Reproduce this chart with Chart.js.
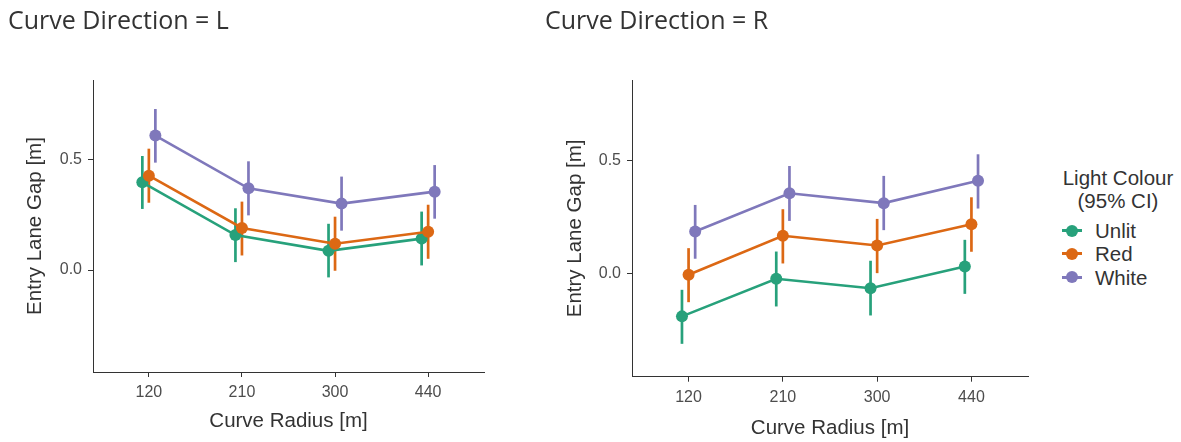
<!DOCTYPE html>
<html>

<head>
    <script src="https://cdn.jsdelivr.net/npm/chart.js@4.4.0/dist/chart.umd.min.js"></script>
    <style>
        body {
            margin: 0;
            background: #ffffff;
        }

        .panel {
            position: absolute;
            top: 0;
            height: 442px;
        }

        #legend {
            position: absolute;
            left: 1052px;
            top: 167px;
            font-family: "Liberation Sans", Arial, sans-serif;
            font-size: 20.5px;
            color: #333333;
        }

        #legend .lt {
            text-align: center;
            line-height: 22.5px;
            width: 132px;
            margin-bottom: 7px;
        }

        #legend .item {
            height: 23.3px;
            line-height: 23.3px;
            position: relative;
            padding-left: 43px;
        }

        #legend .key {
            position: absolute;
            left: 10px;
            top: 10px;
            width: 20px;
            height: 3px;
        }

        #legend .dot {
            position: absolute;
            left: 4px;
            top: -4.5px;
            width: 12px;
            height: 12px;
            border-radius: 50%;
        }
    </style>
</head>

<body>
    <div class="panel" style="left:0px;width:500px"><canvas id="left"></canvas></div>
    <div class="panel" style="left:537px;width:510px"><canvas id="right"></canvas></div>
    <div id="legend"></div>

    <script>
        // categories
        const radii = ['120', '210', '300', '440']
        const groups = ['Unlit', 'Red', 'White']
        const colors = ['#27A17B', '#DC6814', '#7F78BB']

        // Curve Direction = L
        const unlitL = [0.396, 0.158, 0.087, 0.142]
        const unlitLlo = [0.276, 0.036, -0.033, 0.021]
        const unlitLhi = [0.515, 0.279, 0.209, 0.264]
        const redL = [0.426, 0.190, 0.119, 0.173]
        const redLlo = [0.304, 0.066, -0.003, 0.051]
        const redLhi = [0.548, 0.309, 0.241, 0.295]
        const whiteL = [0.607, 0.369, 0.300, 0.354]
        const whiteLlo = [0.485, 0.247, 0.178, 0.232]
        const whiteLhi = [0.727, 0.491, 0.422, 0.474]

        // Curve Direction = R
        const unlitR = [-0.192, -0.025, -0.067, 0.030]
        const unlitRlo = [-0.314, -0.148, -0.188, -0.092]
        const unlitRhi = [-0.074, 0.096, 0.055, 0.148]
        const redR = [-0.007, 0.166, 0.123, 0.217]
        const redRlo = [-0.129, 0.043, 0.000, 0.095]
        const redRhi = [0.111, 0.284, 0.241, 0.337]
        const whiteR = [0.185, 0.355, 0.311, 0.410]
        const whiteRlo = [0.064, 0.232, 0.191, 0.287]
        const whiteRhi = [0.303, 0.476, 0.432, 0.528]

        const yTicks = [0, 0.5]
        const dodge = [-0.07, 0, 0.07]

        // vertical CI lines, drawn under the lines and points
        const errorBars = {
            id: 'errorBars',
            beforeDatasetsDraw(chart) {
                const ctx = chart.ctx
                const xs = chart.scales.x
                const ys = chart.scales.y
                chart.data.datasets.forEach(ds => {
                    ctx.save()
                    ctx.strokeStyle = ds.borderColor
                    ctx.lineWidth = 2.7
                    ds.data.forEach((p, i) => {
                        const x = xs.getPixelForValue(p.x)
                        ctx.beginPath()
                        ctx.moveTo(x, ys.getPixelForValue(ds.lo[i]))
                        ctx.lineTo(x, ys.getPixelForValue(ds.hi[i]))
                        ctx.stroke()
                    })
                    ctx.restore()
                })
            }
        }

        function makeDatasets(means, los, his) {
            return means.map((m, g) => ({
                label: groups[g],
                data: m.map((v, i) => ({ x: i + dodge[g], y: v })),
                lo: los[g],
                hi: his[g],
                borderColor: colors[g],
                backgroundColor: colors[g],
                borderWidth: 2.6,
                pointRadius: 6,
                pointBorderWidth: 0,
                pointHoverRadius: 6,
                order: 3 - g,
                tension: 0
            }))
        }

        function makePanel(id, title, datasets, geo) {
            new Chart(document.getElementById(id).getContext('2d'), {
                type: 'line',
                data: { datasets: datasets },
                plugins: [errorBars],
                options: {
                    maintainAspectRatio: false,
                    responsive: true,
                    animation: false,
                    layout: { padding: { left: 8, right: geo.padRight, top: 0, bottom: 0 } },
                    plugins: {
                        legend: { display: false },
                        tooltip: { enabled: false },
                        title: {
                            display: true,
                            text: title,
                            align: 'start',
                            color: '#333333',
                            font: { family: '"Open Sans", sans-serif', size: 25, weight: 'normal', lineHeight: 1.2 },
                            padding: { top: 6.5, bottom: 43.5 }
                        }
                    },
                    scales: {
                        x: {
                            type: 'linear',
                            min: -0.6,
                            max: 3.6,
                            afterBuildTicks: s => { s.ticks = radii.map((r, i) => ({ value: i })) },
                            afterFit: s => { s.height = geo.xAxisHeight },
                            grid: { drawOnChartArea: false, drawTicks: true, tickLength: 5, color: '#333333' },
                            border: { display: true, color: '#333333', width: 1 },
                            ticks: {
                                callback: v => radii[v],
                                color: '#4d4d4d',
                                padding: 6,
                                maxRotation: 0,
                                font: { family: '"Liberation Sans", Arial, sans-serif', size: 16 }
                            },
                            title: {
                                display: true,
                                text: 'Curve Radius [m]',
                                color: '#333333',
                                font: { family: '"Liberation Sans", Arial, sans-serif', size: 20.5 },
                                padding: { top: 0, bottom: geo.xTitlePad }
                            }
                        },
                        y: {
                            type: 'linear',
                            min: -0.46,
                            max: 0.858,
                            afterBuildTicks: s => { s.ticks = yTicks.map(v => ({ value: v })) },
                            afterFit: s => { s.width = geo.yAxisWidth },
                            grid: { drawOnChartArea: false, drawTicks: true, tickLength: 5, color: '#333333' },
                            border: { display: true, color: '#333333', width: 1 },
                            ticks: {
                                callback: v => v.toFixed(1),
                                color: '#4d4d4d',
                                padding: 6,
                                font: { family: '"Liberation Sans", Arial, sans-serif', size: 16 }
                            },
                            title: {
                                display: true,
                                text: 'Entry Lane Gap [m]',
                                color: '#333333',
                                font: { family: '"Liberation Sans", Arial, sans-serif', size: 20.5 },
                                padding: { top: geo.yTitlePad, bottom: 0 }
                            }
                        }
                    }
                }
            })
        }

        makePanel('left', 'Curve Direction = L',
            makeDatasets([unlitL, redL, whiteL], [unlitLlo, redLlo, whiteLlo], [unlitLhi, redLhi, whiteLhi]),
            { padRight: 16, yAxisWidth: 85, xAxisHeight: 70, xTitlePad: 8, yTitlePad: 14.7 })

        makePanel('right', 'Curve Direction = R',
            makeDatasets([unlitR, redR, whiteR], [unlitRlo, redRlo, whiteRlo], [unlitRhi, redRhi, whiteRhi]),
            { padRight: 19, yAxisWidth: 87, xAxisHeight: 65.3, xTitlePad: 1.4, yTitlePad: 18 })

        // legend built from the same group names and colours
        const legend = document.getElementById('legend')
        legend.innerHTML = '<div class="lt">Light Colour<br>(95% CI)</div>' +
            groups.map((g, i) =>
                '<div class="item"><span class="key" style="background:' + colors[i] + '">' +
                '<span class="dot" style="background:' + colors[i] + '"></span></span>' + g + '</div>'
            ).join('')
    </script>
</body>

</html>
